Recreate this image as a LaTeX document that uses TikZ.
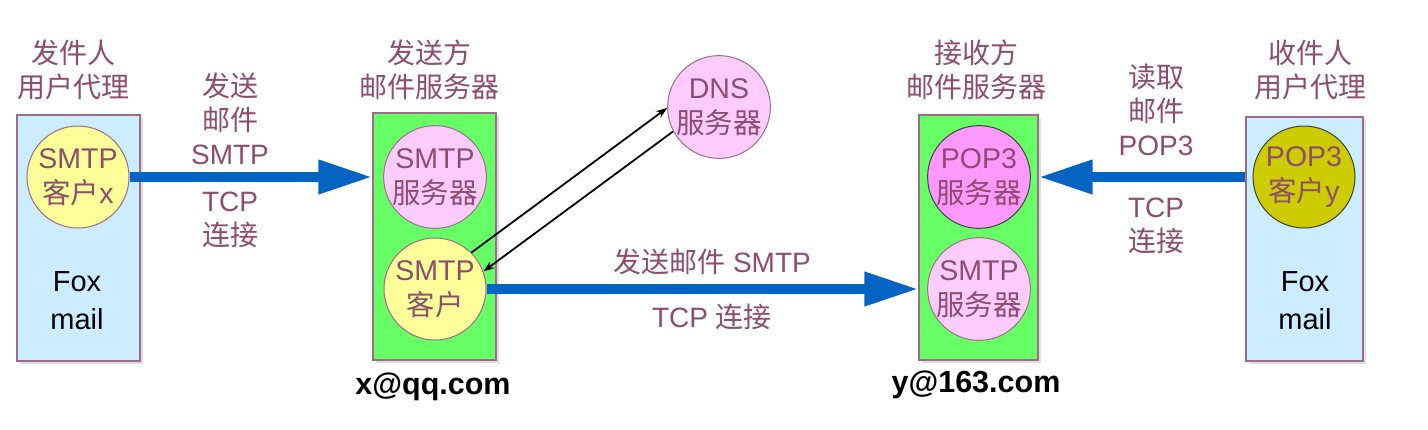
\documentclass[tikz,border=0pt]{standalone}
\usepackage{fontspec}
\setmainfont{Liberation Sans}
\newfontfamily\zh{Noto Sans CJK SC}
\usetikzlibrary{arrows.meta,shadows}
\definecolor{plum}{HTML}{8E4C6E}
\definecolor{bord}{HTML}{A06A8A}
\definecolor{lblue}{HTML}{CCECFF}
\definecolor{lgreen}{HTML}{66FF66}
\definecolor{lyellow}{HTML}{FFFF99}
\definecolor{lpink}{HTML}{FFCCFF}
\definecolor{mag}{HTML}{FF99FF}
\definecolor{olive}{HTML}{CCCC00}
\definecolor{ablue}{HTML}{0563C1}
\begin{document}
\begin{tikzpicture}[x=1pt,y=-1pt,
  box/.style={draw=bord, line width=1.2pt, inner sep=0pt,
    drop shadow={shadow xshift=2.5pt, shadow yshift=-2.5pt, fill=black!25, opacity=0.5}},
  circ/.style={circle, draw=bord, line width=1pt, minimum size=102pt, inner sep=0pt,
    align=center, text=plum, font=\fontsize{28.5}{35}\selectfont},
  dcirc/.style={circ, draw=black!75},
  lbl/.style={text=plum, align=center, inner sep=0pt, font=\fontsize{28}{34}\selectfont},
  fox/.style={text=black, align=center, inner sep=0pt, font=\fontsize{29}{38}\selectfont},
  addr/.style={text=black, inner sep=0pt, font=\bfseries\fontsize{30.5}{34}\selectfont},
  big/.style={draw=ablue, line width=10pt,
    -{Triangle[length=54pt,width=32pt]}},
  thin/.style={draw=black, line width=1.8pt, -{Stealth[length=11pt,width=8pt]}}
]
\useasboundingbox (0,0) rectangle (1428,429);
\fill[white] (0,0) rectangle (1428,429);

% boxes
\node[box, fill=lblue, minimum width=123pt, minimum height=246pt] (ua1) at (78.5,238) {};
\node[box, fill=lgreen, minimum width=123pt, minimum height=247pt] (ms1) at (434.5,236.5) {};
\node[box, fill=lgreen, minimum width=119pt, minimum height=245pt] (ms2) at (978.5,237.5) {};
\node[box, fill=lblue, minimum width=117pt, minimum height=244pt] (ua2) at (1304.5,239) {};

% titles
\node[lbl] (t1) at (73,70) {{\zh 发件人}\\{\zh 用户代理}};
\node[lbl] (t2) at (429,70) {{\zh 发送方}\\{\zh 邮件服务器}};
\node[lbl] (t3) at (976,70) {{\zh 接收方}\\{\zh 邮件服务器}};
\node[lbl] (t4) at (1310,70) {{\zh 收件人}\\{\zh 用户代理}};

% circles
\node[circ, fill=lyellow] (cx) at (78,177) {SMTP\\{\zh 客户}x};
\node[circ, fill=lpink] (ss1) at (435,177) {SMTP\\{\zh 服务器}};
\node[circ, fill=lyellow] (sc) at (435,289) {SMTP\\{\zh 客户}};
\node[circ, fill=lpink] (dns) at (719,107) {DNS\\{\zh 服务器}};
\node[dcirc, fill=mag] (pop) at (979,177) {POP3\\{\zh 服务器}};
\node[circ, fill=lpink] (ss2) at (979,289) {SMTP\\{\zh 服务器}};
\node[dcirc, fill=olive] (cy) at (1304,177) {POP3\\{\zh 客户}y};

% foxmail
\node[fox] (f1) at (77,301) {Fox\\mail};
\node[fox] (f2) at (1305,301) {Fox\\mail};

% addresses
\node[addr] (a1) at (433,387) {x@qq.com};
\node[addr] (a2) at (976,385) {y@163.com};

% big arrows
\draw[big] (cx.east) -- (ms1.west |- cx.east);
\draw[big] (sc.east) -- (ms2.west |- sc.east);
\draw[big] (ua2.west |- cy.west) -- (ms2.east |- cy.west);

% thin arrows to/from DNS
\draw[thin] (sc.45) -- (dns.181);
\draw[thin] (dns.208) -- (sc.20);

% arrow labels
\node[lbl] (l1) at (230,119) {{\zh 发送}\\{\zh 邮件}\\SMTP};
\node[lbl] (l2) at (230,220) {TCP\\{\zh 连接}};
\node[lbl] (l3) at (712,262) {{\zh 发送邮件} SMTP};
\node[lbl] (l4) at (712,317) {TCP {\zh 连接}};
\node[lbl] (l5) at (1156,110) {{\zh 读取}\\{\zh 邮件}\\POP3};
\node[lbl] (l6) at (1156,226) {TCP\\{\zh 连接}};
\end{tikzpicture}
\end{document}
